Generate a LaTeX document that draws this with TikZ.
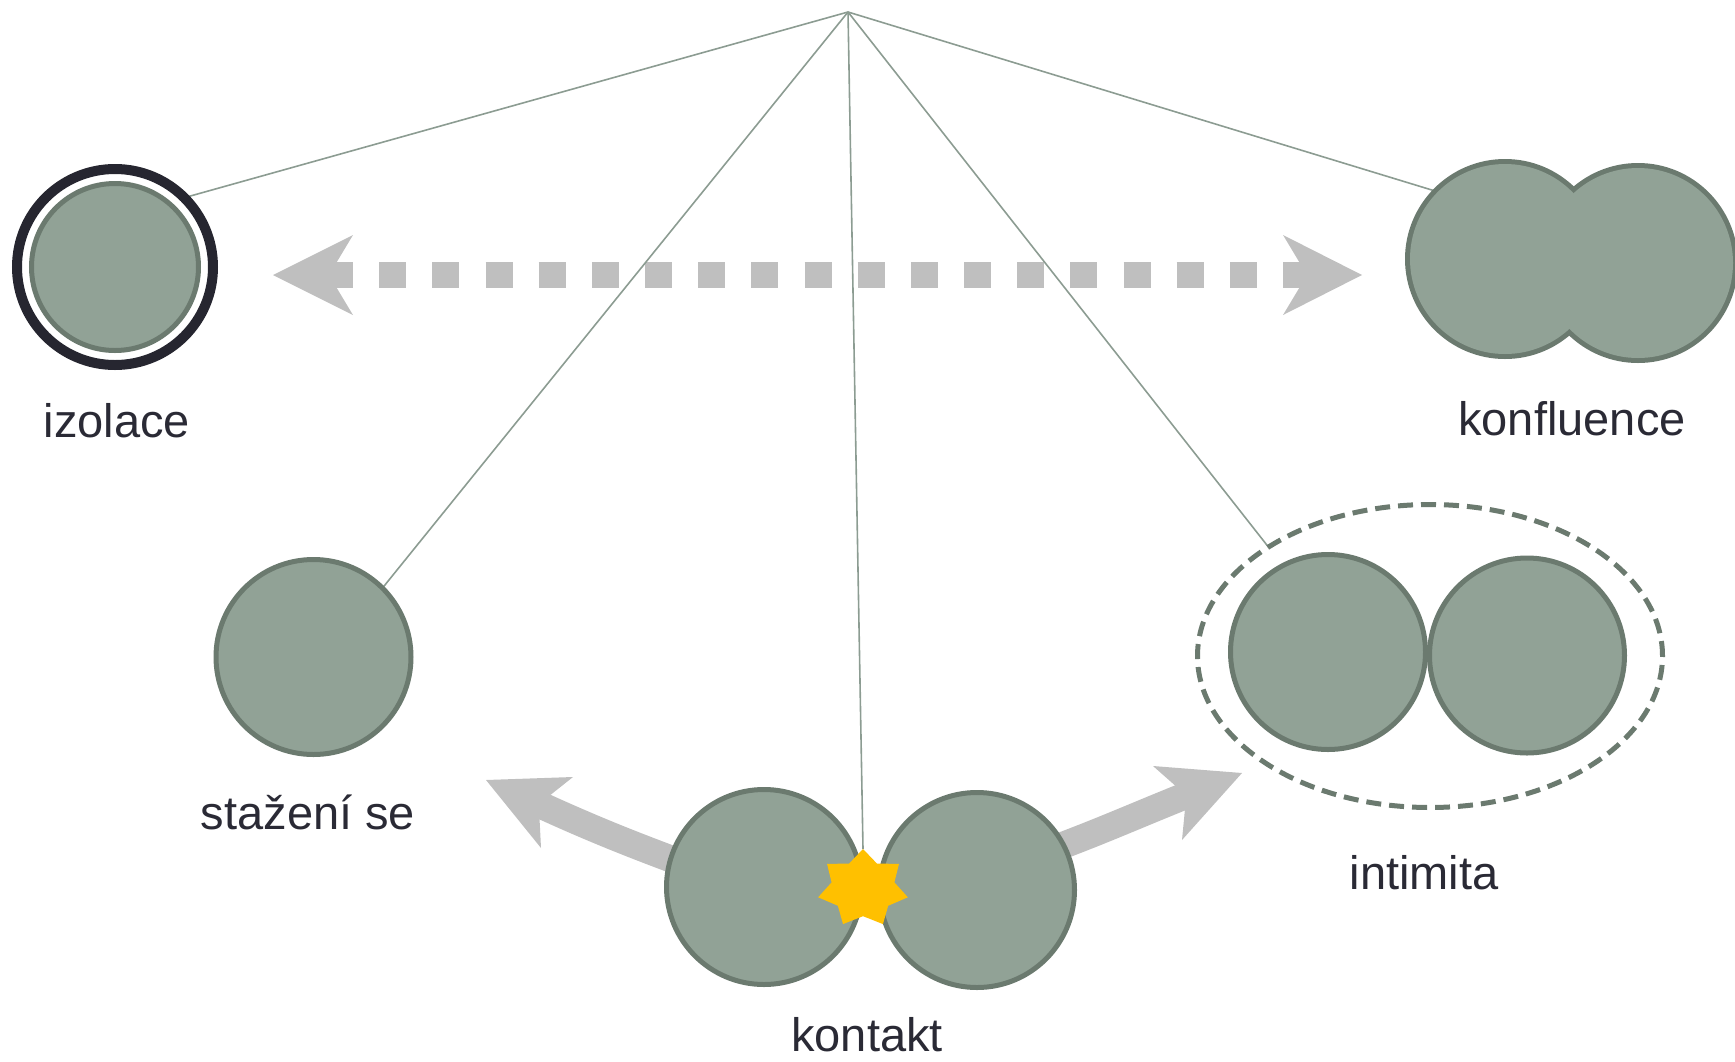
\documentclass[tikz,border=0pt]{standalone}
\usepackage{fontspec}
\setmainfont{Liberation Sans}
\usetikzlibrary{shapes.geometric}
\definecolor{fillc}{HTML}{91A296}
\definecolor{strokec}{HTML}{6B7A6F}
\definecolor{ringc}{HTML}{262630}
\definecolor{linec}{HTML}{8C9C92}
\definecolor{arrc}{HTML}{BFBFBF}
\definecolor{starc}{HTML}{FFC000}
\definecolor{txtc}{HTML}{2A2A35}
\pgfdeclarelayer{bg}
\pgfdeclarelayer{mid}
\pgfsetlayers{bg,mid,main}
\begin{document}
\begin{tikzpicture}[x=1pt,y=-1pt,
  ball/.style={circle,draw=strokec,fill=fillc,line width=5pt,minimum size=195pt,inner sep=0pt,outer sep=0pt},
  ring/.style={circle,draw=ringc,line width=10pt,minimum size=196pt,inner sep=0pt,outer sep=0pt},
  oval/.style={ellipse,draw=strokec,line width=5pt,dash pattern=on 15pt off 8pt,minimum width=465pt,minimum height=303pt,inner sep=0pt,outer sep=0pt},
  conn/.style={draw=linec,line width=1.6pt},
  shaft/.style={draw=arrc,line width=27pt},
  dotshaft/.style={draw=arrc,line width=26pt,dash pattern=on 27pt off 26.17pt},
  head/.style={fill=arrc},
  lbl/.style={text=txtc,font=\fontsize{47}{56}\selectfont,inner sep=0pt,anchor=base}]
\useasboundingbox (0,0) rectangle (1735,1061);

% ---- nodes (circles) ----
\node[ring] (izr) at (115,267) {};
\node[ball,minimum size=167pt] (iz) at (115,267) {};
\node[ball] (st) at (313.5,657) {};
\node[oval] (ell) at (1430,656) {};
\node[ball] (il) at (1328,652) {};
\node[ball] (ir) at (1527,655.5) {};
\node[ball] (kl) at (764,887) {};
\node[ball] (kr) at (977,890) {};
\node[ball,line width=10pt,minimum size=190pt] (kf1) at (1505,259) {};
\node[ball,line width=10pt,minimum size=190pt] (kf2) at (1638,263) {};
\fill[fillc] (kf1.center) circle[radius=95pt];
\fill[fillc] (kf2.center) circle[radius=95pt];

% ---- star ----
\fill[starc] plot[samples at={0,...,13}]
  ({863+46*(1-0.3*mod(\x,2))*cos(90+\x*360/14)},
   {888.5-39.5*(1-0.3*mod(\x,2))*sin(90+\x*360/14)}) -- cycle;
\coordinate (startop) at (863,849);

% ---- labels ----
\node[lbl] (t-iz) at (117,437) {izolace};
\node[lbl] (t-kf) at (1572,435) {konfluence};
\node[lbl] (t-st) at (308,829) {stažení se};
\node[lbl] (t-in) at (1424,889) {intimita};
\node[lbl] (t-ko) at (867,1051) {kontakt};

% ---- dotted double arrow ----
\coordinate (dl) at (326,275);
\coordinate (dr) at (1310,275);
\coordinate (ltip) at (273,275);
\coordinate (rtip) at (1362,275);
\begin{pgfonlayer}{bg}
\path[dotshaft] (dl) -- (dr);
\fill[head] (ltip) -- (353,235) -- (329,275) -- (353,315) -- cycle;
\fill[head] (rtip) -- (1283,235) -- (1307,275) -- (1283,315) -- cycle;
\end{pgfonlayer}

% ---- apex lines ----
\coordinate (apex) at (848,12);
\begin{pgfonlayer}{mid}
\path[conn] (apex) -- (izr.45);
\path[conn] (apex) -- (st.45);
\path[conn] (apex) -- (startop);
\path[conn] (apex) -- (ell.146);
\path[conn] (apex) -- (kf1.135);

% ---- curved arrows from kontakt ----
\coordinate (ls) at (698,869);
\coordinate (le) at (536,803);
\coordinate (rs) at (1037,855);
\coordinate (re) at (1189,794.3);
\path[shaft] (ls) .. controls (630,844) and (590.6,828) .. (le);
\fill[head] (486,780) -- (573,777) -- (538.8,804.2) -- (541,848) -- cycle;
\path[shaft] (rs) .. controls (1100,832) and (1133,816.7) .. (re);
\fill[head] (1242,773) -- (1153,766) -- (1186.3,795.4) -- (1182,840) -- cycle;
\end{pgfonlayer}
\end{tikzpicture}
\end{document}
